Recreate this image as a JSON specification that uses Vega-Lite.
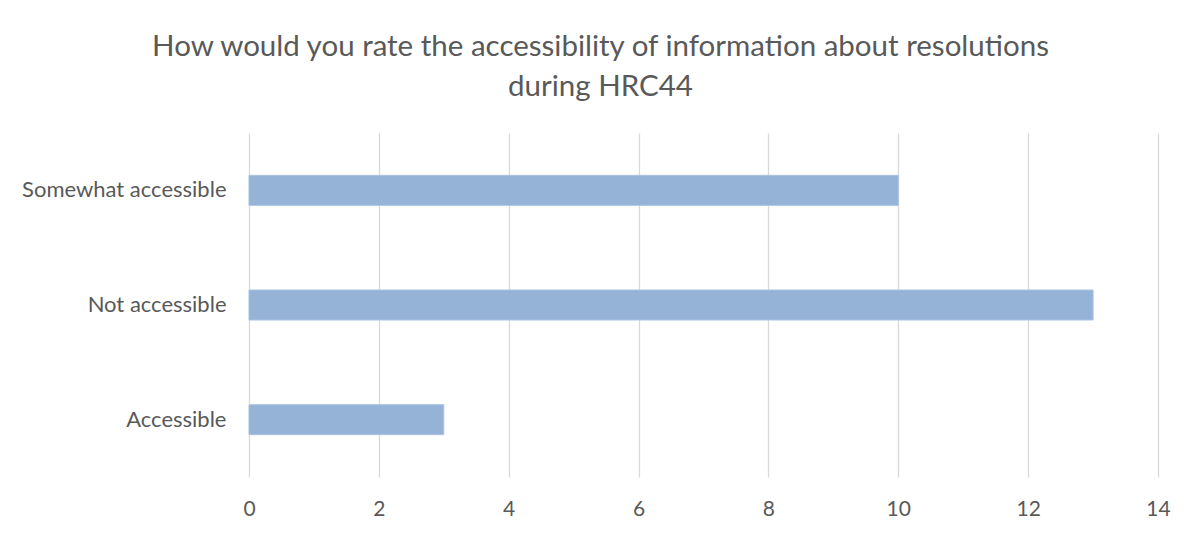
{
  "$schema": "https://vega.github.io/schema/vega-lite/v6.json",
  "autosize": {"type": "none"},
  "padding": {"left": 249, "top": 133, "right": 43, "bottom": 58},
  "width": 909,
  "height": 344,
  "background": "white",
  "title": {
    "text": ["How would you rate the accessibility of information about resolutions", "during HRC44"],
    "anchor": "middle",
    "dx": -103,
    "offset": 31,
    "font": "Lato",
    "fontSize": 29.5,
    "fontWeight": "normal",
    "color": "#595959",
    "lineHeight": 40
  },
  "data": {
    "values": [
      {"category": "Somewhat accessible", "count": 10},
      {"category": "Not accessible", "count": 13},
      {"category": "Accessible", "count": 3}
    ]
  },
  "mark": {"type": "bar", "color": "#95B3D7", "size": 30, "stroke": "#A9C3E0", "strokeWidth": 1},
  "encoding": {
    "y": {
      "field": "category",
      "type": "nominal",
      "sort": ["Somewhat accessible", "Not accessible", "Accessible"],
      "title": null,
      "axis": {
        "ticks": false,
        "domain": false,
        "labelPadding": 23,
        "labelLimit": 400,
        "labelFont": "Lato",
        "labelFontSize": 22,
        "labelColor": "#595959",
        "grid": false
      }
    },
    "x": {
      "field": "count",
      "type": "quantitative",
      "scale": {"domain": [0, 14], "nice": false},
      "title": null,
      "axis": {
        "values": [0, 2, 4, 6, 8, 10, 12, 14],
        "ticks": false,
        "domain": false,
        "grid": true,
        "gridColor": "#D9D9D9",
        "gridWidth": 1.3,
        "labelFlush": false,
        "labelPadding": 21,
        "labelFont": "Lato",
        "labelFontSize": 21,
        "labelColor": "#595959"
      }
    }
  },
  "config": {"view": {"stroke": null}}
}
